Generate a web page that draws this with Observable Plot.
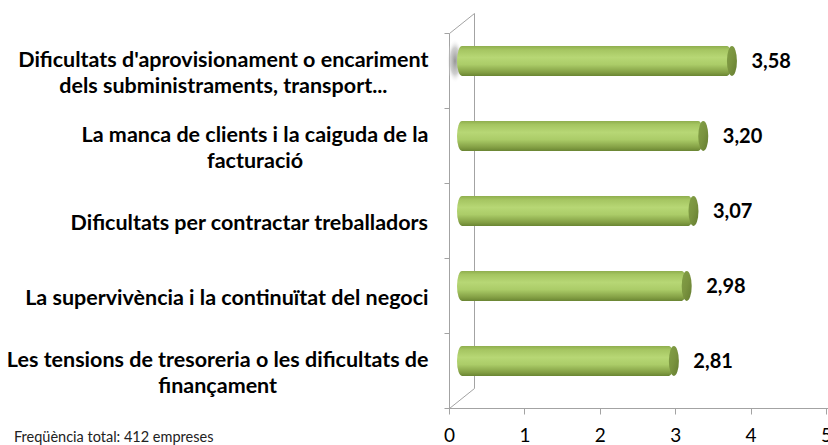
<!DOCTYPE html>
<html>
<head>
<meta charset="utf-8">
<script src="https://cdn.jsdelivr.net/npm/d3@7"></script>
<script src="https://cdn.jsdelivr.net/npm/@observablehq/plot@0.6"></script>
<style>
  html, body { margin: 0; padding: 0; background: #fff; }
  #wrap { position: relative; width: 828px; height: 445px; overflow: hidden; }
  #caption { position: absolute; left: 14px; top: 428px; font: 14.5px Lato, sans-serif; color: #222; }
</style>
</head>
<body>
<div id="wrap">
  <div id="chart"></div>
  <div id="caption">Freqüència total: 412 empreses</div>
</div>
<script>
// ---- data ----
const categories = [
  "Dificultats d'aprovisionament o encariment\ndels subministraments, transport...",
  "La manca de clients i la caiguda de la\nfacturació",
  "Dificultats per contractar treballadors",
  "La supervivència i la continuïtat del negoci",
  "Les tensions de tresoreria o les dificultats de\nfinançament"
];
const values = [3.58, 3.20, 3.07, 2.98, 2.81];
const xTicks = [0, 1, 2, 3, 4, 5];

const data = categories.map((cat, i) => ({cat, value: values[i]}));

// ---- styling constants ----
const FONT = "Lato, sans-serif";
const LABEL_SIZE = 21.5;
const VALUE_SIZE = 20;
const DEPTH_X = 25, DEPTH_Y = 20;          // 3D wall depth
const BAR_DX = 13, BAR_DY = -10;           // bars sit mid-depth
const LABEL_GAP = 21;                      // gap between label block and axis

// measure label lines to right-align each block while centering its lines
const ctx = document.createElement("canvas").getContext("2d");
ctx.font = `bold ${LABEL_SIZE}px Lato, sans-serif`;
const blockWidth = s => Math.max(...s.split("\n").map(l => ctx.measureText(l).width));

const defs = () => {
  const d = d3.create("svg:defs");
  const g = d.append("linearGradient").attr("id", "cyl").attr("x1", 0).attr("y1", 0).attr("x2", 0).attr("y2", 1);
  [[0, "#8fae4e"], [0.12, "#a5c561"], [0.38, "#b7d775"], [0.62, "#abcc68"], [0.88, "#839f44"], [1, "#6a8533"]]
    .forEach(([o, c]) => g.append("stop").attr("offset", o).attr("stop-color", c));
  const c = d.append("linearGradient").attr("id", "cap").attr("x1", 0).attr("y1", 0).attr("x2", 1).attr("y2", 1);
  [[0, "#82a046"], [0.5, "#7a933f"], [1, "#647c30"]]
    .forEach(([o, col]) => c.append("stop").attr("offset", o).attr("stop-color", col));
  const r = d.append("radialGradient").attr("id", "glow");
  [[0, "#8a8a8a", 0.9], [0.6, "#b0b0b0", 0.6], [1, "#ffffff", 0]]
    .forEach(([o, col, op]) => r.append("stop").attr("offset", o).attr("stop-color", col).attr("stop-opacity", op));
  return d.node();
};

const wall = (index, scales, values, dims) => {
  const {x} = scales;
  const {marginTop, marginBottom, height, width, marginRight} = dims;
  const x0 = Math.round(x(0)) + 0.5;
  const yTop = marginTop + 0.5, yBot = height - marginBottom + 0.5;
  const n = categories.length, step = (yBot - yTop) / n;
  const path = d3.path();
  path.moveTo(x0, yTop); path.lineTo(x0, yBot);
  path.moveTo(x0, yTop); path.lineTo(x0 + DEPTH_X, yTop - DEPTH_Y);
  path.lineTo(x0 + DEPTH_X, yBot - DEPTH_Y); path.lineTo(x0, yBot);
  path.moveTo(x0, yBot); path.lineTo(width - marginRight + 2, yBot);
  for (let i = 0; i <= n; ++i) { const yy = yTop + i * step; path.moveTo(x0 - 5, yy); path.lineTo(x0, yy); }
  for (const t of xTicks) { const xx = Math.round(x(t)) + 0.5; path.moveTo(xx, yBot); path.lineTo(xx, yBot + 6); }
  return d3.create("svg:path").attr("d", path.toString()).attr("fill", "none")
    .attr("stroke", "#a3a3a3").attr("stroke-width", 1).node();
};

const labelMarks = data.map(d => Plot.text([d], {
  y: "cat", text: "cat", frameAnchor: "left", textAnchor: "middle",
  dx: -LABEL_GAP - blockWidth(d.cat) / 2, fontWeight: "bold", fontSize: LABEL_SIZE, lineHeight: 1.22, fill: "#000"
}));

const chart = Plot.plot({
  width: 828, height: 445,
  marginLeft: 449, marginRight: 2, marginTop: 33, marginBottom: 37,
  style: {fontFamily: FONT, fontSize: "19px", color: "#000", background: "transparent", overflow: "visible"},
  x: {domain: [0, 5], ticks: xTicks, tickSize: 0, tickPadding: 20, tickFormat: d => String(d), label: null},
  y: {domain: categories, paddingInner: 0.6, paddingOuter: 0.3, axis: null},
  marks: [
    defs,
    wall,
    Plot.barX([data[0]], {x1: () => 0, x2: () => 0, y: "cat", insetLeft: -8, insetRight: -8, insetTop: -7, insetBottom: -7,
      rx: 8, ry: 22, dx: 6, dy: BAR_DY, fill: "url(#glow)"}),
    Plot.barX(data, {x1: () => 0, x2: "value", y: "cat", insetLeft: -5, rx: 5, ry: 15, dx: BAR_DX, dy: BAR_DY, fill: "url(#cyl)"}),
    Plot.barX(data, {x1: "value", x2: "value", y: "cat", insetLeft: -5, insetRight: -5, rx: 5, ry: 15, dx: BAR_DX, dy: BAR_DY, fill: "url(#cap)"}),
    Plot.text(data, {x: "value", y: "cat", text: d => d.value.toFixed(2).replace(".", ","), textAnchor: "start",
      dx: BAR_DX + 19, dy: BAR_DY, fontWeight: "bold", fontSize: VALUE_SIZE, fill: "#000"}),
    ...labelMarks
  ]
});
document.getElementById("chart").appendChild(chart);
</script>
</body>
</html>
